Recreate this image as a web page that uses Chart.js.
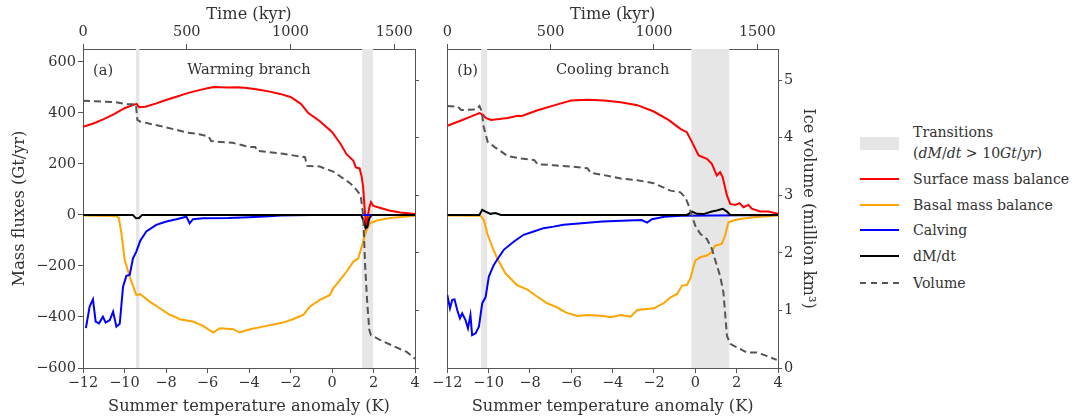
<!DOCTYPE html>
<html>
<head>
<meta charset="utf-8">
<script src="https://cdn.jsdelivr.net/npm/chart.js@4.4.1/dist/chart.umd.min.js"></script>
<style>
  body { margin: 0; background: #fff; }
  #wrap { position: relative; width: 1072px; height: 420px; overflow: hidden; font-family: 'DejaVu Serif', serif; color: #333; }
  canvas { position: absolute; top: 0; }
  .lg { position: absolute; font-size: 15px; line-height: 20px; white-space: nowrap; }
  .sw { position: absolute; left: 860px; width: 39px; }
</style>
</head>
<body>
<div id="wrap">
  <canvas id="chartA" width="430" height="420" style="left:0px"></canvas>
  <canvas id="chartB" width="400" height="420" style="left:430px"></canvas>

  <div class="sw" style="top:137px;height:13px;background:#e6e6e6"></div>
  <div class="lg" style="left:913px;top:122px">Transitions</div>
  <div class="lg" style="left:913px;top:143px">(<i>dM</i>/<i>dt</i> &gt; 10<i>Gt</i>/<i>yr</i>)</div>
  <div class="sw" style="top:178px;border-top:2px solid #ff0000"></div>
  <div class="lg" style="left:913px;top:169px">Surface mass balance</div>
  <div class="sw" style="top:204px;border-top:2px solid #ffa500"></div>
  <div class="lg" style="left:913px;top:195px">Basal mass balance</div>
  <div class="sw" style="top:229px;border-top:2px solid #0000ff"></div>
  <div class="lg" style="left:913px;top:220px">Calving</div>
  <div class="sw" style="top:255px;border-top:2px solid #000"></div>
  <div class="lg" style="left:913px;top:246px">dM/dt</div>
  <div class="sw" style="top:282px;border-top:2px dashed #555"></div>
  <div class="lg" style="left:913px;top:273px">Volume</div>
</div>
<script>
// tick values
const tempTicks = [-12, -10, -8, -6, -4, -2, 0, 2, 4];
const timeTicks = [0, 500, 1000, 1500];
const fluxTicks = [-600, -400, -200, 0, 200, 400, 600];
const volTicks = [0, 1, 2, 3, 4, 5];

// (a) warming branch
const smbA_T = [-12, -11.5, -11.0, -10.5, -10.0, -9.6, -9.42, -9.3, -9.0, -8.5, -8.0, -7.5, -7.0, -6.5, -6.0, -5.7, -5.0, -4.5, -4.0, -3.5, -3.0, -2.5, -2.0, -1.5, -1.14, -0.6, 0.0, 0.4, 0.7, 1.03, 1.15, 1.33, 1.43, 1.5, 1.56, 1.64, 1.72, 1.8, 1.88, 2.0, 2.3, 2.8, 3.3, 4.0];
const smbA = [345, 358, 375, 395, 418, 430, 435, 422, 424, 436, 450, 463, 476, 487, 496, 501, 499, 500, 496, 490, 483, 474, 462, 435, 399, 368, 325, 280, 238, 212, 186, 182, 150, 110, 40, -50, -8, 30, 50, 35, 28, 16, 9, 3];
const bmbA_T = [-12, -10.4, -10.27, -10.15, -9.99, -9.75, -9.43, -9.24, -8.79, -8.3, -7.82, -7.6, -7.34, -7.0, -6.7, -6.22, -5.72, -5.4, -4.76, -4.45, -3.95, -3.15, -2.35, -1.86, -1.38, -1.06, -0.58, -0.1, 0.06, 0.39, 0.71, 1.03, 1.27, 1.48, 1.64, 1.83, 2.15, 2.8, 4.0];
const bmbA = [-2, -4, -13, -72, -176, -242, -314, -310, -340, -366, -392, -398, -409, -414, -418, -435, -461, -444, -448, -461, -448, -435, -422, -408, -392, -359, -333, -314, -288, -255, -222, -183, -170, -111, -65, -33, -22, -12, -3];
const calvA_T = [-11.86, -11.68, -11.52, -11.39, -11.23, -11.04, -10.91, -10.71, -10.55, -10.39, -10.23, -10.07, -9.91, -9.75, -9.59, -9.43, -9.24, -8.95, -8.47, -7.98, -7.5, -7.02, -6.86, -6.7, -6.22, -5.0, -4.0, -3.0, -2.5, -1.0, 4.0];
const calvA = [-444, -359, -331, -418, -425, -399, -422, -412, -379, -438, -427, -281, -239, -235, -170, -144, -101, -65, -39, -26, -17, -7, -33, -17, -13, -12, -9, -5, -2, 0, 0];
const dmdtA_T = [-12, -9.6, -9.45, -9.3, -9.15, 1.4, 1.52, 1.62, 1.7, 1.8, 1.92, 4.0];
const dmdtA = [0, 0, -13, -12, 0, 0, -22, -52, -48, -13, 0, 0];
const volA_T = [-12, -10.5, -9.85, -9.45, -9.38, -9.25, -8.0, -7.0, -6.4, -5.95, -5.82, -4.8, -4.0, -3.7, -3.6, -2.35, -1.3, -1.2, -0.6, 0.06, 0.39, 0.87, 1.19, 1.38, 1.51, 1.59, 1.7, 1.8, 1.88, 2.31, 2.96, 3.6, 4.0];
const volA = [4.64, 4.62, 4.58, 4.58, 4.31, 4.28, 4.18, 4.09, 4.06, 4.02, 3.94, 3.91, 3.84, 3.84, 3.77, 3.72, 3.66, 3.51, 3.5, 3.41, 3.33, 3.21, 3.09, 3.0, 2.63, 1.82, 1.12, 0.66, 0.57, 0.49, 0.38, 0.28, 0.16];
const transA = [[-9.45, -9.28], [1.45, 1.98]];

// (b) cooling branch
const smbB_T = [-12, -11.33, -10.84, -10.44, -10.28, -10.12, -9.88, -9.08, -8.59, -8.43, -7.63, -6.83, -6.02, -5.22, -4.42, -3.61, -2.81, -2.01, -1.3, -0.72, -0.41, -0.16, 0.16, 0.56, 0.8, 1.04, 1.2, 1.32, 1.53, 1.69, 1.93, 2.14, 2.33, 2.57, 2.73, 3.13, 3.53, 4.0];
const smbB = [349, 370, 386, 399, 392, 379, 372, 380, 388, 387, 410, 429, 448, 451, 448, 441, 430, 405, 372, 337, 324, 285, 233, 220, 200, 154, 167, 148, 76, 43, 39, 46, 30, 39, 24, 13, 13, 4];
const bmbB_T = [-12, -10.4, -10.23, -10.07, -9.83, -9.59, -9.19, -8.63, -8.14, -7.66, -7.18, -6.7, -6.25, -5.7, -5.22, -4.42, -4.1, -3.61, -3.13, -2.81, -2.01, -1.53, -1.2, -0.88, -0.64, -0.41, -0.25, 0.0, 0.24, 0.56, 0.8, 0.96, 1.28, 1.44, 1.6, 1.84, 2.16, 2.8, 4.0];
const bmbB = [-2, -3, -20, -72, -124, -170, -229, -275, -292, -320, -346, -362, -383, -396, -392, -396, -401, -392, -399, -373, -366, -346, -323, -310, -277, -275, -251, -179, -166, -159, -146, -120, -114, -81, -29, -22, -16, -9, -2];
const calvB_T = [-12, -11.87, -11.76, -11.65, -11.52, -11.39, -11.28, -11.12, -11.0, -10.88, -10.8, -10.63, -10.47, -10.31, -10.15, -9.99, -9.75, -9.51, -9.27, -8.79, -8.31, -7.82, -7.34, -6.86, -6.38, -5.5, -4.5, -2.6, -2.33, -2.1, -1.5, -0.7, 4.0];
const calvB = [-314, -366, -333, -331, -373, -405, -386, -412, -444, -392, -471, -464, -438, -346, -323, -242, -196, -166, -137, -105, -78, -65, -52, -46, -39, -33, -26, -20, -30, -17, -7, -3, 0];
const dmdtB_T = [-12, -10.45, -10.31, -10.15, -9.91, -9.67, -9.4, -0.4, -0.16, 0.08, 0.4, 0.8, 1.04, 1.33, 1.53, 1.69, 4.0];
const dmdtB = [0, 0, 20, 13, 4, 7, 0, 0, 13, 4, 3, 13, 17, 24, 13, 0, 0];
const volB_T = [-12, -11.5, -11.33, -10.6, -10.44, -10.33, -10.24, -10.05, -9.72, -9.08, -8.43, -7.79, -7.63, -6.83, -6.02, -5.54, -5.22, -5.06, -4.42, -3.61, -2.81, -2.01, -1.2, -0.72, -0.48, -0.32, -0.16, 0.0, 0.24, 0.56, 0.8, 1.04, 1.2, 1.36, 1.53, 1.69, 2.01, 2.49, 2.97, 3.45, 3.94];
const volB = [4.55, 4.54, 4.48, 4.49, 4.55, 4.45, 4.19, 3.93, 3.84, 3.68, 3.64, 3.61, 3.54, 3.52, 3.5, 3.48, 3.47, 3.39, 3.35, 3.29, 3.26, 3.21, 3.08, 3.05, 2.96, 2.82, 2.64, 2.47, 2.33, 2.24, 2.07, 1.78, 1.6, 1.31, 0.56, 0.42, 0.36, 0.27, 0.27, 0.21, 0.14];
const transB = [[-10.36, -10.07], [-0.19, 1.64]];

const fam = "'DejaVu Serif', serif";
Chart.defaults.font.family = fam;
Chart.defaults.color = '#333';

// size the fonts so the texts come out as wide as in the figure
const meas = document.createElement('canvas').getContext('2d');
function fitSize(text, width) {
    meas.font = '100px ' + fam;
    return Math.round(1000 * width / meas.measureText(text).width) / 10;
}
const tickSize = fitSize('1500', 37);
const titleSize = fitSize('Summer temperature anomaly (K)', 282);
const noteSize = fitSize('Warming branch', 123);
const legendSize = fitSize('Surface mass balance', 156);
document.querySelectorAll('.lg').forEach(e => { e.style.fontSize = legendSize + 'px'; });

const tickFont = { family: fam, size: tickSize };
const titleFont = { family: fam, size: titleSize, lineHeight: 1.2 };
const halfTitle = titleSize * 0.6;
const pad = c => Math.max(0, c - halfTitle);
const axisCol = '#555';
const num = v => String(v).replace('-', '\u2212');
const pts = (xs, ys) => xs.map((x, i) => ({ x: x, y: ys[i] }));

// grey transition bands + panel captions
const panelPlugin = {
    id: 'panel',
    beforeDatasetsDraw(chart, args, opts) {
        const { ctx, chartArea, scales } = chart;
        ctx.save();
        ctx.fillStyle = '#e6e6e6';
        opts.spans.forEach(s => {
            const x1 = scales.x.getPixelForValue(s[0]);
            const x2 = scales.x.getPixelForValue(s[1]);
            ctx.fillRect(x1, chartArea.top, x2 - x1, chartArea.bottom - chartArea.top);
        });
        ctx.restore();
    },
    afterDraw(chart, args, opts) {
        const { ctx, chartArea } = chart;
        ctx.save();
        ctx.fillStyle = '#333';
        ctx.font = noteSize + 'px ' + fam;
        ctx.textBaseline = 'middle';
        ctx.textAlign = 'left';
        ctx.fillText(opts.tag, chartArea.left + 10, chartArea.top + 22);
        ctx.textAlign = 'center';
        ctx.fillText(opts.title, (chartArea.left + chartArea.right) / 2, chartArea.top + 21);
        ctx.restore();
    }
};

function line(label, data, color, axis, order, dash) {
    return {
        label: label,
        data: data,
        borderColor: color,
        borderWidth: 2,
        borderDash: dash || [],
        pointRadius: 0,
        tension: 0,
        fill: false,
        yAxisID: axis,
        order: order
    };
}

function makePanel(id, d, box) {
    new Chart(document.getElementById(id), {
        type: 'line',
        data: {
            datasets: [
                line('Volume', d.vol, '#555', 'yVol', 0, [7, 4]),
                line('dM/dt', d.dmdt, '#000000', 'y', 1),
                line('Calving', d.calv, '#0000ff', 'y', 2),
                line('Basal mass balance', d.bmb, '#ffa500', 'y', 3),
                line('Surface mass balance', d.smb, '#ff0000', 'y', 4)
            ]
        },
        options: {
            responsive: false,
            animation: false,
            devicePixelRatio: 1,
            layout: { padding: 0 },
            plugins: {
                legend: { display: false },
                tooltip: { enabled: false },
                panel: { spans: d.spans, tag: d.tag, title: d.title }
            },
            scales: {
                x: {
                    type: 'linear', position: 'bottom', min: -12, max: 4,
                    afterBuildTicks: s => { s.ticks = tempTicks.map(v => ({ value: v })); },
                    afterFit: s => { s.height = 52; },
                    ticks: { font: tickFont, color: '#333', callback: num, padding: 2, autoSkip: false, maxRotation: 0 },
                    grid: { drawOnChartArea: false, tickLength: 5, color: axisCol },
                    border: { color: axisCol },
                    title: { display: true, text: 'Summer temperature anomaly (K)', font: titleFont, color: '#333', padding: { top: 0, bottom: pad(13) } }
                },
                xTop: {
                    type: 'linear', position: 'top', min: 0, max: 1600,
                    afterBuildTicks: s => { s.ticks = timeTicks.map(v => ({ value: v })); },
                    afterFit: s => { s.height = 49; },
                    ticks: { font: tickFont, color: '#333', callback: num, padding: 3, autoSkip: false, maxRotation: 0 },
                    grid: { drawOnChartArea: false, tickLength: 5, color: axisCol },
                    border: { color: axisCol },
                    title: { display: true, text: 'Time (kyr)', font: titleFont, color: '#333', padding: { top: pad(15), bottom: 0 } }
                },
                y: {
                    type: 'linear', position: 'left', min: -600, max: 650,
                    afterBuildTicks: s => { s.ticks = fluxTicks.map(v => ({ value: v })); },
                    afterFit: s => { s.width = box.left; },
                    ticks: { display: d.fluxLabels, font: tickFont, color: '#333', callback: num, padding: 2, autoSkip: false },
                    grid: { display: d.fluxLabels, drawOnChartArea: false, tickLength: 5, color: axisCol },
                    border: { display: true, color: axisCol },
                    title: { display: d.fluxLabels, text: 'Mass fluxes (Gt/yr)', font: titleFont, color: '#333', padding: { top: pad(20), bottom: 0 } }
                },
                yVol: {
                    type: 'linear', position: 'right', min: 0, max: 5.54,
                    afterBuildTicks: s => { s.ticks = volTicks.map(v => ({ value: v })); },
                    afterFit: s => { s.width = box.right; },
                    ticks: { display: d.volLabels, font: tickFont, color: '#333', callback: num, padding: 2, autoSkip: false },
                    grid: { drawOnChartArea: false, tickLength: 4, color: axisCol },
                    border: { display: true, color: axisCol },
                    title: { display: d.volLabels, text: 'Ice volume (million km\u00b3)', font: titleFont, color: '#333', padding: { top: pad(22), bottom: 0 } }
                }
            }
        },
        plugins: [panelPlugin]
    });
}

makePanel('chartA', {
    smb: pts(smbA_T, smbA), bmb: pts(bmbA_T, bmbA), calv: pts(calvA_T, calvA),
    dmdt: pts(dmdtA_T, dmdtA), vol: pts(volA_T, volA), spans: transA,
    tag: '(a)', title: 'Warming branch', fluxLabels: true, volLabels: false
}, { left: 83, right: 15 });

makePanel('chartB', {
    smb: pts(smbB_T, smbB), bmb: pts(bmbB_T, bmbB), calv: pts(calvB_T, calvB),
    dmdt: pts(dmdtB_T, dmdtB), vol: pts(volB_T, volB), spans: transB,
    tag: '(b)', title: 'Cooling branch', fluxLabels: false, volLabels: true
}, { left: 16, right: 52 });
</script>
</body>
</html>
